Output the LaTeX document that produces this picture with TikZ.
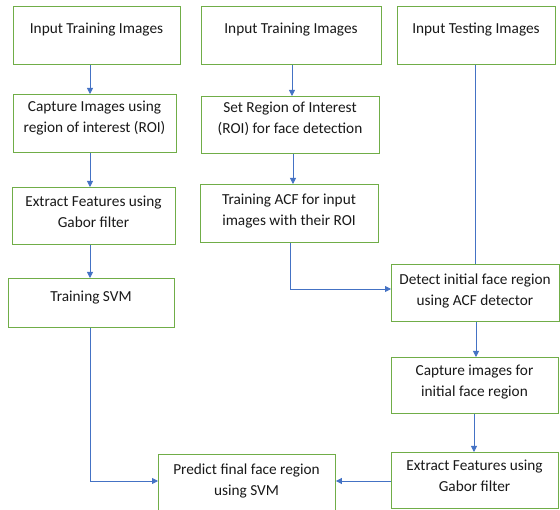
\documentclass[tikz,border=0pt]{standalone}
\usepackage{fontspec}
\setmainfont{Carlito}
\usetikzlibrary{arrows.meta,positioning}
\definecolor{boxgreen}{RGB}{112,173,71}
\definecolor{arrblue}{RGB}{68,114,196}
\definecolor{txt}{RGB}{25,25,25}
\tikzset{
  x=1pt,y=-1pt,
  box/.style={draw=boxgreen,line width=0.9pt,fill=white,anchor=north west,inner sep=0pt},
  lbl/.style={align=center,text=txt,font=\fontsize{15.3}{21.5}\selectfont,inner sep=0pt},
  arr/.style={draw=arrblue,line width=0.8pt,-{Triangle[length=6pt,width=6pt]}},
  ln/.style={draw=arrblue,line width=0.8pt}
}
\begin{document}
\begin{tikzpicture}
\useasboundingbox (0,0) rectangle (560,510);
\clip (0,0) rectangle (560,510);
% left column
\node[box,minimum width=167pt,minimum height=58pt] (a1) at (13,6) {};
\node[lbl] (ta1) at (96.5,30) {Input Training Images};
\node[box,minimum width=163pt,minimum height=58pt] (a2) at (13,94) {};
\node[lbl] (ta2) at (94.5,118) {Capture Images using\\region of interest (ROI)};
\node[box,minimum width=163pt,minimum height=57pt] (a3) at (12,187) {};
\node[lbl] (ta3) at (93.5,212) {Extract Features using\\Gabor filter};
\node[box,minimum width=166pt,minimum height=49pt] (a4) at (8,278) {};
\node[lbl] (ta4) at (91,298) {Training SVM};
% middle column
\node[box,minimum width=180pt,minimum height=58pt] (b1) at (201,6) {};
\node[lbl] (tb1) at (291,30) {Input Training Images};
\node[box,minimum width=178pt,minimum height=57pt] (b2) at (201,96) {};
\node[lbl] (tb2) at (290,119) {Set Region of Interest\\(ROI) for face detection};
\node[box,minimum width=178pt,minimum height=58pt] (b3) at (200,184) {};
\node[lbl] (tb3) at (289,211) {Training ACF for input\\images with their ROI};
% right column
\node[box,minimum width=158pt,minimum height=58pt] (c1) at (397,6) {};
\node[lbl] (tc1) at (476,30) {Input Testing Images};
\node[box,minimum width=168pt,minimum height=57pt] (c2) at (391,264) {};
\node[lbl] (tc2) at (475,291) {Detect initial face region\\using ACF detector};
\node[box,minimum width=167pt,minimum height=56pt] (c3) at (391,357) {};
\node[lbl] (tc3) at (474.5,382) {Capture images for\\initial face region};
\node[box,minimum width=167pt,minimum height=56pt] (c4) at (391,452) {};
\node[lbl] (tc4) at (474.5,476) {Extract Features using\\Gabor filter};
% predict
\node[box,minimum width=177pt,minimum height=70pt] (p) at (158,454) {};
\node[lbl] (tp) at (246.5,481) {Predict final face region\\using SVM};
% guide coordinates
\coordinate (xa) at (90,0);
\coordinate (xb1) at (292,0);
\coordinate (xb2) at (293,0);
\coordinate (xb3) at (290,0);
\coordinate (xc1) at (475,0);
\coordinate (xc2) at (476,0);
\coordinate (xc3) at (474,0);
\coordinate (yd) at (0,289);
\coordinate (yp) at (0,481);
% connectors
\draw[arr] (xa |- a1.south) -- (xa |- a2.north);
\draw[arr] (xa |- a2.south) -- (xa |- a3.north);
\draw[arr] (xa |- a3.south) -- (xa |- a4.north);
\draw[arr] (xa |- a4.south) |- (p.west |- yp);
\draw[arr] (xb1 |- b1.south) -- (xb1 |- b2.north);
\draw[arr] (xb2 |- b2.south) -- (xb2 |- b3.north);
\draw[arr] (xb3 |- b3.south) |- (c2.west |- yd);
\draw[ln] (xc1 |- c1.south) -- (xc1 |- c2.north);
\draw[arr] (xc2 |- c2.south) -- (xc2 |- c3.north);
\draw[arr] (xc3 |- c3.south) -- (xc3 |- c4.north);
\draw[arr] (c4.west |- yp) -- (p.east |- yp);
\end{tikzpicture}
\end{document}
